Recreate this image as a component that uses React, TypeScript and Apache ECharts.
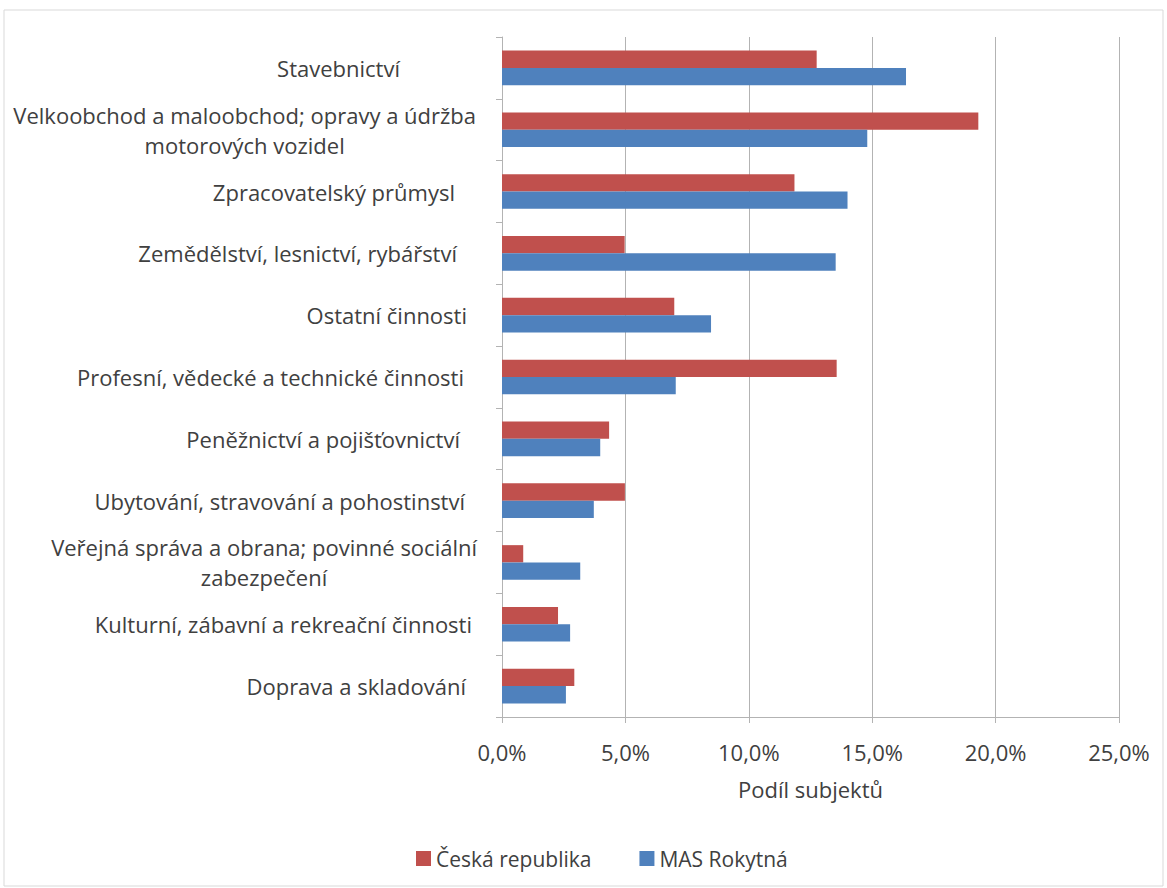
import React, { useEffect, useRef } from "react";
import * as echarts from "echarts";

const categories: string[] = [
  "Stavebnictví",
  "Velkoobchod a maloobchod; opravy a údržba\nmotorových vozidel",
  "Zpracovatelský průmysl",
  "Zemědělství, lesnictví, rybářství",
  "Ostatní činnosti",
  "Profesní, vědecké a technické činnosti",
  "Peněžnictví a pojišťovnictví",
  "Ubytování, stravování a pohostinství",
  "Veřejná správa a obrana; povinné sociální\nzabezpečení",
  "Kulturní, zábavní a rekreační činnosti",
  "Doprava a skladování",
];

const ceskaRepublika: number[] = [12.75, 19.3, 11.85, 4.97, 6.98, 13.56, 4.34, 4.98, 0.86, 2.27, 2.93];
const masRokytna: number[] = [16.37, 14.8, 14.0, 13.52, 8.47, 7.04, 3.98, 3.72, 3.17, 2.76, 2.59];

const seriesNames = ["Česká republika", "MAS Rokytná"];
const xTicks = { min: 0, max: 25, interval: 5 };

// right-side indentation (px) of each category label, mimicking the original layout
const labelPad: number[] = [78, 2, 23, 21, 11, 14, 18, 13, 1, 6, 12];

const FONT = "Open Sans";
const FS = 22;
const TEXT_COLOR = "#404040";
const GRID_COLOR = "#b3b3b3";

export default function App() {
  const ref = useRef<HTMLDivElement>(null);

  useEffect(() => {
    if (!ref.current) return;
    const chart = echarts.init(ref.current, undefined, { renderer: "svg" });

    const rich: Record<string, any> = {};
    labelPad.forEach((p) => {
      rich["r" + p] = {
        fontFamily: FONT,
        fontSize: FS,
        color: TEXT_COLOR,
        align: "right",
        padding: [0, p, 0, 0],
      };
      rich["c" + p] = {
        fontFamily: FONT,
        fontSize: FS,
        color: TEXT_COLOR,
        align: "center",
        lineHeight: 30,
        padding: [0, p, 0, 0],
      };
    });

    chart.setOption({
      animation: false,
      backgroundColor: "#ffffff",
      textStyle: { fontFamily: FONT },
      graphic: [
        {
          type: "rect",
          shape: { x: 4, y: 10, width: 1159, height: 876 },
          style: { fill: "none", stroke: "#d9d9d9", lineWidth: 1 },
          silent: true,
        },
      ],
      grid: { left: 502, right: 48, top: 37, bottom: 171 },
      legend: {
        data: seriesNames,
        top: 843,
        left: 411,
        icon: "rect",
        itemWidth: 15,
        itemHeight: 15,
        itemGap: 48,
        textStyle: { fontFamily: FONT, fontSize: 21, color: TEXT_COLOR },
      },
      xAxis: {
        type: "value",
        min: xTicks.min,
        max: xTicks.max,
        interval: xTicks.interval,
        name: "Podíl subjektů",
        nameLocation: "middle",
        nameGap: 61,
        nameTextStyle: { fontFamily: FONT, fontSize: FS, color: TEXT_COLOR },
        axisLine: { show: true, lineStyle: { color: GRID_COLOR } },
        axisTick: { show: true, length: 6, lineStyle: { color: GRID_COLOR } },
        axisLabel: {
          margin: 24,
          fontFamily: FONT,
          fontSize: FS,
          color: TEXT_COLOR,
          formatter: (v: number) => v.toFixed(1).replace(".", ",") + "%",
        },
        splitLine: { show: true, lineStyle: { color: GRID_COLOR, width: 1 } },
      },
      yAxis: {
        type: "category",
        inverse: true,
        data: categories,
        axisLine: { show: true, lineStyle: { color: GRID_COLOR } },
        axisTick: { show: true, length: 6, lineStyle: { color: GRID_COLOR } },
        splitLine: { show: false },
        axisLabel: {
          interval: 0,
          margin: 24,
          align: "right",
          fontFamily: FONT,
          fontSize: FS,
          color: TEXT_COLOR,
          rich,
          formatter: (value: string, idx: number) => {
            const lines = value.split("\n");
            const kind = lines.length > 1 ? "c" : "r";
            return lines.map((l) => "{" + kind + labelPad[idx] + "|" + l + "}").join("\n");
          },
        },
      },
      series: [
        {
          name: seriesNames[0],
          type: "bar",
          data: ceskaRepublika,
          barWidth: "28%",
          barGap: "0%",
          itemStyle: { color: "#c0504d" },
        },
        {
          name: seriesNames[1],
          type: "bar",
          data: masRokytna,
          barWidth: "28%",
          barGap: "0%",
          itemStyle: { color: "#4f81bd" },
        },
      ],
    });

    return () => chart.dispose();
  }, []);

  return (
    <div
      ref={ref}
      style={{ position: "absolute", left: 0, top: 0, width: 1167, height: 888 }}
    />
  );
}
